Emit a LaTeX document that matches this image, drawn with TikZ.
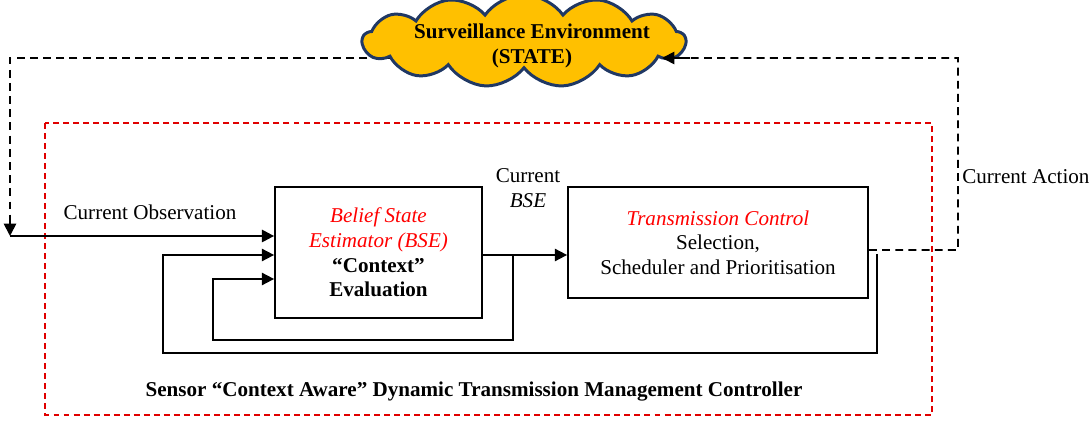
\documentclass[tikz,border=0pt]{standalone}
\usepackage{fontspec}
\setmainfont{Liberation Serif}
\usetikzlibrary{shapes.symbols,arrows.meta,calc}
\definecolor{envfill}{HTML}{FFC000}
\definecolor{envline}{HTML}{203864}
\definecolor{ctrlred}{HTML}{E00000}

\begin{document}
\begin{tikzpicture}[x=0.2mm,y=-0.2mm,
  every node/.style={font=\fontsize{12}{14}\selectfont},
  blk/.style={draw,line width=1pt,align=center,inner sep=2pt},
  fb/.style={line width=1pt,-{Triangle[length=7pt,width=7pt]}},
  act/.style={line width=1pt,dash pattern=on 4.5pt off 3pt}]
\useasboundingbox (0,0) rectangle (1091,421);
% controller frame
\draw[ctrlred,line width=1pt,dash pattern=on 3.4pt off 2.3pt] (45,123) rectangle (932,415);
\node[font=\bfseries\fontsize{12}{14}\selectfont] (ctrl) at (474,392) {Sensor “Context Aware” Dynamic Transmission Management Controller};

% blocks
\node[blk,minimum width=4.14cm,minimum height=2.62cm] (bse) at (378.5,252.5)
  {\textcolor{red}{\itshape Belief State}\\ \textcolor{red}{\itshape Estimator (BSE)}\\ \textbf{“Context”}\\ \textbf{Evaluation}};
\node[blk,minimum width=6cm,minimum height=2.22cm] (tc) at (718,242.5)
  {\textcolor{red}{\itshape Transmission Control}\\ Selection,\\ Scheduler and Prioritisation};

% coordinates
\coordinate (envL) at (420,58);
\coordinate (envR) at (662,58);
\coordinate (obs) at (10,236);
\coordinate (split) at (513,255);
\coordinate (fbout) at (877,254);

% observation path
\draw[act] (envL) -- (10,58) -- (10,222);
\draw[line width=1pt,-{Triangle[length=7pt,width=7pt]}] (10,218) -- (obs);
\draw[fb,line width=1.3pt] (obs) -- ($(bse.west)+(0,-16.5)$);
\node (obslbl) at (150,212) {Current Observation};

% belief state out
\draw[fb] ($(bse.east)+(0,2.5)$) -- ($(tc.west)+(0,12.5)$);
\node[align=center] (cur) at (528,188) {Current\\ \textit{BSE}};

% feedback loops
\draw[fb] (split) |- (213,340) |- ($(bse.west)+(0,26.5)$);
\draw[fb] (fbout) |- (163,353) |- ($(bse.west)+(0,2.5)$);

% action path
\draw[act] ($(tc.east)+(0,7.5)$) -- (958,250) -- (958,58) -- (envR);
\node[anchor=west,inner sep=0pt] (actlbl) at (962,177) {Current Action};

% environment
\node[cloud,cloud ignores aspect,cloud puffs=13,cloud puff arc=110,fill=envfill,draw=envline,line width=1.7pt,
  minimum width=6.46cm,minimum height=1.85cm,inner sep=0pt] (env) at (524,41) {};
\node[align=center,font=\bfseries\fontsize{12}{14}\selectfont] (envtxt) at (532,46)
  {Surveillance Environment\\ (STATE)};
\draw[line width=1pt,-{Triangle[length=7pt,width=7pt]}] (690,58) -- (envR);
\end{tikzpicture}
\end{document}
